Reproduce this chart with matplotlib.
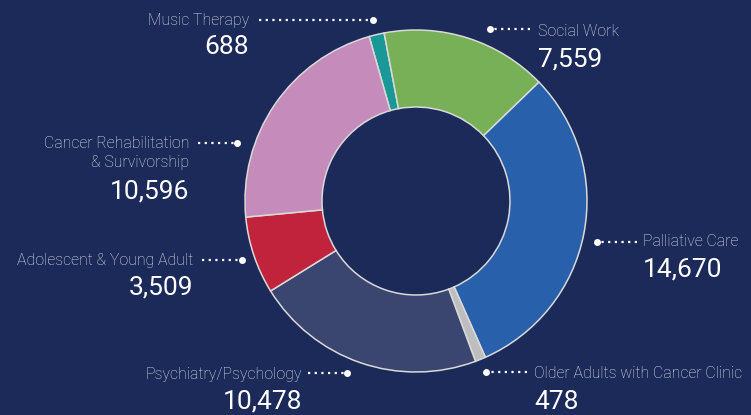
import matplotlib
matplotlib.use("Agg")
import matplotlib.pyplot as plt

# ---- data ----
categories = ["Music Therapy", "Social Work", "Palliative Care",
              "Older Adults with Cancer Clinic", "Psychiatry/Psychology",
              "Adolescent & Young Adult", "Cancer Rehabilitation\n& Survivorship"]
values = [688, 7559, 14670, 478, 10478, 3509, 10596]
colors = ["#1a9897", "#77b057", "#2860ab", "#bebebe", "#3b4670", "#c1233d", "#c58bbb"]

BG = "#1c2a59"
W, H = 751, 415

fig = plt.figure(figsize=(W / 100, H / 100), dpi=100, facecolor=BG)
ax = fig.add_axes([0, 0, 1, 1])
ax.set_facecolor(BG)

def py(y):
    return H - y

ax.pie(values, colors=colors, startangle=105.9, counterclock=False,
       center=(416, py(201)), radius=171,
       wedgeprops=dict(width=77, edgecolor="#d9d9d9", linewidth=1.1))

ax.set_xlim(0, W)
ax.set_ylim(0, H)
ax.set_aspect("equal")
ax.axis("off")

LABEL_FONT = ["Roboto", "DejaVu Sans"]
NUM_FONT = ["Roboto", "DejaVu Sans"]
LC = "#dfe1ea"

# size fonts so a reference string spans the width seen in the reference
renderer = fig.canvas.get_renderer()

def fit_size(s, target_px, family, weight="normal", base=10):
    t = ax.text(0, 0, s, fontsize=base, family=family, fontweight=weight)
    w = t.get_window_extent(renderer).width
    t.remove()
    return base * target_px / w

label_size = fit_size("Older Adults with Cancer Clinic", 209, LABEL_FONT, "light")
num_size = fit_size("14,670", 79, NUM_FONT)

# label layout: (text x, label y, number y, align, line x0, dot x, line y)
layout = [
    (249, 20, 47, "right", 259, 373, 20),
    (538, 31, 60, "left", 530, 490, 29),
    (643, 242, 270, "left", 637, 597, 242),
    (534, 374, 402, "left", 527, 486, 372),
    (302, 374, 402, "right", 308, 347, 373),
    (193, 260, 287, "right", 202, 242, 260),
    (189, 153, 192, "right", 198, 237, 143),
]

for cat, val, (tx, ly, ny, ha, lx0, dx, dy) in zip(categories, values, layout):
    ax.text(tx, py(ly), cat, ha=ha, va="center", color=LC, fontsize=label_size,
            family=LABEL_FONT, fontweight="light", linespacing=1.25)
    ax.text(tx, py(ny), f"{val:,}", ha=ha, va="center", color="white",
            fontsize=num_size, family=NUM_FONT)
    ax.plot([lx0, dx], [py(dy), py(dy)], color="white", lw=1.6,
            linestyle=(0, (1, 2)), solid_capstyle="butt")
    ax.plot([dx], [py(dy)], marker="o", color="white", markersize=5,
            markeredgewidth=0)

fig.savefig("out.png", dpi=100, facecolor=BG)
